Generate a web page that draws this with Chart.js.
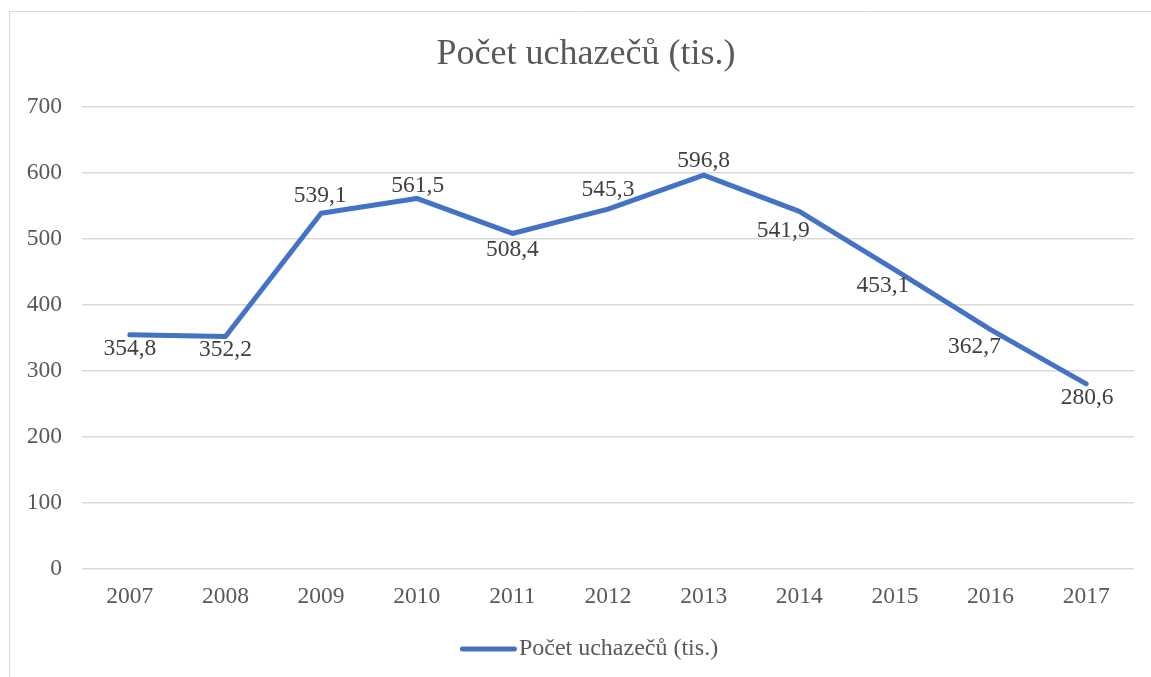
<!DOCTYPE html>
<html>
<head>
<meta charset="utf-8">
<script src="https://cdn.jsdelivr.net/npm/chart.js@4/dist/chart.umd.min.js"></script>
<style>
  html, body { margin: 0; padding: 0; background: #ffffff; }
  #wrap { width: 1151px; height: 677px; position: relative; }
</style>
</head>
<body>
<div id="wrap"><canvas id="c" width="1151" height="677"></canvas></div>
<script>
const categories = ['2007','2008','2009','2010','2011','2012','2013','2014','2015','2016','2017'];
const applicants = [354.8, 352.2, 539.1, 561.5, 508.4, 545.3, 596.8, 541.9, 453.1, 362.7, 280.6];
const seriesName = 'Počet uchazečů (tis.)';
const chartTitle = 'Počet uchazečů (tis.)';
const yTicks = [0, 100, 200, 300, 400, 500, 600, 700];

const FONT = "'Liberation Serif', 'Times New Roman', serif";
const LINE_COLOR = '#4472C4';

const frame = {
  id: 'frame',
  afterLayout(chart) {
    // centre the title over the whole chart frame, as in the reference
    if (chart.titleBlock) {
      chart.titleBlock.left = 38;
    }
  },
  beforeDraw(chart) {
    const ctx = chart.ctx;
    ctx.save();
    ctx.fillStyle = '#ffffff';
    ctx.fillRect(0, 0, chart.width, chart.height);
    ctx.strokeStyle = '#d9d9d9';
    ctx.lineWidth = 1;
    ctx.beginPath();
    ctx.moveTo(9.5, chart.height);
    ctx.lineTo(9.5, 11.5);
    ctx.lineTo(chart.width, 11.5);
    ctx.stroke();
    ctx.restore();
  }
};

const dataLabels = {
  id: 'dataLabels',
  afterDatasetsDraw(chart, args, opts) {
    const ctx = chart.ctx;
    const meta = chart.getDatasetMeta(0);
    const ds = chart.data.datasets[0];
    ctx.save();
    ctx.font = opts.font;
    ctx.fillStyle = opts.color;
    ctx.textAlign = 'center';
    ctx.textBaseline = 'middle';
    meta.data.forEach((pt, i) => {
      const off = opts.offsets[i] || [0, 0];
      const txt = ds.data[i].toFixed(1).replace('.', ',');
      ctx.fillText(txt, pt.x + off[0], pt.y + off[1]);
    });
    ctx.restore();
  }
};

const customLegend = {
  id: 'customLegend',
  afterDraw(chart, args, opts) {
    const ctx = chart.ctx;
    const ds = chart.data.datasets[0];
    ctx.save();
    ctx.font = opts.font;
    const tw = ctx.measureText(ds.label).width;
    const total = opts.lineLength + opts.gap + tw;
    const x0 = opts.centerX - total / 2;
    const y = opts.y;
    ctx.strokeStyle = ds.borderColor;
    ctx.lineWidth = ds.borderWidth;
    ctx.lineCap = 'round';
    ctx.beginPath();
    ctx.moveTo(x0 + 2.5, y);
    ctx.lineTo(x0 + opts.lineLength - 2.5, y);
    ctx.stroke();
    ctx.fillStyle = opts.color;
    ctx.textAlign = 'left';
    ctx.textBaseline = 'middle';
    ctx.fillText(ds.label, x0 + opts.lineLength + opts.gap, y);
    ctx.restore();
  }
};

new Chart(document.getElementById('c'), {
  type: 'line',
  data: {
    labels: categories,
    datasets: [{
      label: seriesName,
      data: applicants,
      borderColor: LINE_COLOR,
      backgroundColor: LINE_COLOR,
      borderWidth: 5,
      borderCapStyle: 'round',
      borderJoinStyle: 'round',
      pointRadius: 0,
      pointHoverRadius: 0,
      tension: 0,
      fill: false
    }]
  },
  options: {
    responsive: false,
    animation: false,
    devicePixelRatio: 1,
    layout: { padding: { left: 0, right: 17, top: 0, bottom: 50 } },
    scales: {
      x: {
        offset: true,
        grid: { display: false, drawTicks: false },
        border: { display: false },
        ticks: { color: '#595959', font: { family: FONT, size: 23.5 }, padding: 14, maxRotation: 0 },
        afterFit(s) { s.height = 58; }
      },
      y: {
        min: 0, max: 700,
        afterBuildTicks(s) { s.ticks = yTicks.map(v => ({ value: v })); },
        grid: { color: '#d9d9d9', lineWidth: 1.5, drawTicks: false },
        border: { display: false },
        ticks: { color: '#595959', font: { family: FONT, size: 23.5 }, padding: 20 },
        afterFit(s) { s.width = 82; }
      }
    },
    plugins: {
      title: {
        display: true,
        text: chartTitle,
        color: '#595959',
        font: { family: FONT, size: 36, weight: 'normal' },
        padding: { top: 33.2, bottom: 30.6 }
      },
      legend: { display: false },
      tooltip: { enabled: false },
      dataLabels: {
        font: "23.5px 'Liberation Serif', 'Times New Roman', serif",
        color: '#404040',
        offsets: [[0,14],[0,13],[-1,-17],[1,-13],[0,16],[0,-19],[0,-14],[-16,19],[-12,16],[-16,17],[1,14]]
      },
      customLegend: {
        font: "24px 'Liberation Serif', 'Times New Roman', serif",
        color: '#595959',
        lineLength: 57,
        gap: 2,
        centerX: 589,
        y: 649
      }
    }
  },
  plugins: [frame, dataLabels, customLegend]
});
</script>
</body>
</html>
